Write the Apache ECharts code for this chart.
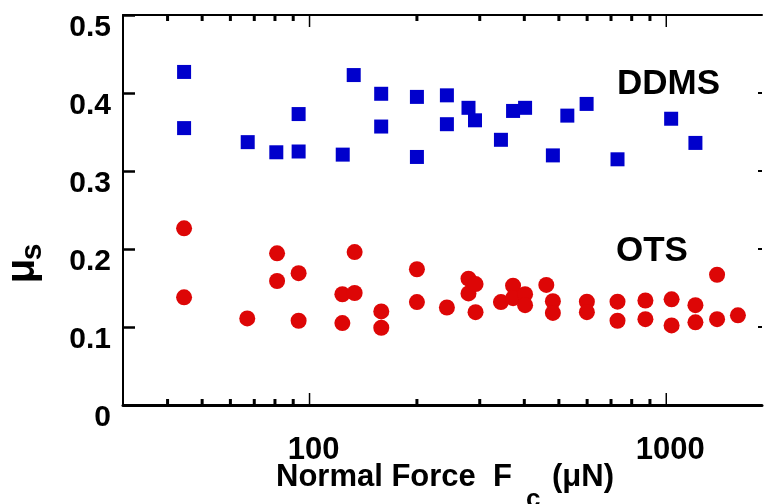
<!DOCTYPE html>
<html>
<head>
<meta charset="utf-8">
<script src="https://cdn.jsdelivr.net/npm/echarts@6/dist/echarts.min.js"></script>
<style>
html,body{margin:0;padding:0;background:#fff;}
#chart{width:765px;height:504px;}
</style>
</head>
<body>
<div id="chart"></div>
<script>
// ---- data ----
var ddmsX = [44.5, 44.5, 67.1, 80.7, 93.2, 93.2, 123.9, 133, 158.8, 158.8, 200, 200, 242.7, 242.7, 279, 291, 344, 372, 402, 481, 528, 598, 730, 1032, 1207];
var ddmsY = [0.427, 0.355, 0.337, 0.324, 0.373, 0.325, 0.321, 0.423, 0.399, 0.357, 0.395, 0.318, 0.397, 0.360, 0.381, 0.365, 0.340, 0.377, 0.381, 0.320, 0.371, 0.386, 0.315, 0.367, 0.336];

var otsX = [44.5, 44.5, 66.9, 81.1, 81.1, 93.2, 93.2, 123.6, 123.6, 133.8, 133.8, 158.9, 158.9, 200, 200, 242.7, 279, 279, 292, 292, 344, 372, 372, 402, 402, 461, 481, 481, 599, 599, 730, 730, 874, 874, 1035, 1035, 1207, 1207, 1388, 1388, 1588];
var otsY = [0.2265, 0.138, 0.111, 0.1945, 0.159, 0.169, 0.108, 0.142, 0.105, 0.196, 0.1436, 0.120, 0.099, 0.174, 0.132, 0.125, 0.162, 0.143, 0.155, 0.119, 0.132, 0.153, 0.137, 0.142, 0.128, 0.154, 0.133, 0.118, 0.1325, 0.119, 0.1325, 0.108, 0.134, 0.110, 0.1355, 0.102, 0.128, 0.106, 0.167, 0.110, 0.115];

var majorTicks = [100, 1000];
var minorTicks = [40, 50, 60, 70, 80, 90, 200, 300, 400, 500, 600, 700, 800, 900];
var xLabels = ['100', '1000'];

var xMin = 30, xMax = 1855;

function zip(a, b) { return a.map(function (v, i) { return [v, b[i]]; }); }

var tickData = majorTicks.map(function (v) { return [v, 1]; })
  .concat(minorTicks.map(function (v) { return [v, 0]; }));

var FONT = '"Liberation Sans", Arial, Helvetica, sans-serif';

var chart = echarts.init(document.getElementById('chart'), null, {renderer: 'canvas'});

var option = {
  backgroundColor: '#ffffff',
  animation: false,
  grid: {left: 123, right: 0, top: 15, bottom: 99, containLabel: false},
  xAxis: [{
    type: 'log', logBase: 10, min: xMin, max: xMax, position: 'bottom',
    axisLine: {show: true, onZero: false, lineStyle: {color: '#000', width: 3}},
    axisTick: {show: false},
    splitLine: {show: false},
    axisLabel: {
      show: true, margin: 30, color: '#000', fontFamily: FONT,
      formatter: function (v) {
        var s = String(Math.round(v));
        return xLabels.indexOf(s) >= 0 && Math.abs(v - Math.round(v)) < 1e-6 ? '{t|' + s + '}' : '';
      },
      rich: {t: {fontSize: 31, fontWeight: 'bold', fontFamily: FONT, color: '#000', padding: [0, 0, 0, 8]}}
    }
  }, {
    type: 'log', logBase: 10, min: xMin, max: xMax, position: 'top',
    axisLine: {show: true, onZero: false, lineStyle: {color: '#000', width: 2}},
    axisTick: {show: false}, axisLabel: {show: false}, splitLine: {show: false}
  }],
  yAxis: [{
    type: 'value', min: 0, max: 0.5, interval: 0.1, position: 'left',
    axisLine: {show: true, onZero: false, lineStyle: {color: '#000', width: 2}},
    axisTick: {show: true, inside: true, length: 12, lineStyle: {color: '#000', width: 2.5}},
    splitLine: {show: false},
    axisLabel: {
      margin: 12, color: '#000', fontFamily: FONT,
      formatter: function (v) { return '{t|' + String(Math.round(v * 10) / 10) + '}'; },
      rich: {t: {fontSize: 30, fontWeight: 'bold', fontFamily: FONT, color: '#000', padding: [25, 0, 0, 0]}}
    }
  }, {
    type: 'value', min: 0, max: 0.5, interval: 0.1, position: 'right',
    axisLine: {show: false},
    axisTick: {show: true, inside: true, length: 4, lineStyle: {color: '#000', width: 2}},
    axisLabel: {show: false}, splitLine: {show: false}
  }],
  series: [{
    name: 'DDMS', type: 'scatter', xAxisIndex: 0, yAxisIndex: 0,
    data: zip(ddmsX, ddmsY),
    symbol: 'rect', symbolSize: [14, 14],
    itemStyle: {color: '#0000cc', opacity: 1}
  }, {
    name: 'OTS', type: 'scatter', xAxisIndex: 0, yAxisIndex: 0,
    data: zip(otsX, otsY),
    symbol: 'circle', symbolSize: 16,
    itemStyle: {color: '#dd0606', opacity: 1}
  }, {
    name: 'ticks', type: 'custom', xAxisIndex: 0, yAxisIndex: 0,
    data: tickData, silent: true, clip: false,
    renderItem: function (params, api) {
      var x = api.coord([api.value(0), 0.25])[0];
      var cs = params.coordSys;
      var major = api.value(1) === 1;
      var len = major ? 12 : 6;
      var w = major ? 1.5 : 3;
      var top = cs.y, bottom = cs.y + cs.height;
      return {
        type: 'group',
        children: [{
          type: 'line', shape: {x1: x, y1: bottom, x2: x, y2: bottom - len},
          style: {stroke: '#000', lineWidth: w}
        }, {
          type: 'line', shape: {x1: x, y1: top, x2: x, y2: top + len},
          style: {stroke: '#000', lineWidth: w}
        }]
      };
    }
  }],
  graphic: [
    {type: 'text', left: 617, top: 67, style: {text: 'DDMS', font: 'bold 35px ' + FONT, fill: '#000'}},
    {type: 'text', left: 616, top: 234, style: {text: 'OTS', font: 'bold 35px ' + FONT, fill: '#000'}},
    {type: 'text', x: 276, y: 477, style: {text: 'Normal Force  F', font: 'bold 31px ' + FONT, fill: '#000', align: 'left', verticalAlign: 'middle'}},
    {type: 'text', x: 526, y: 500, style: {text: 'c', font: 'bold 26px ' + FONT, fill: '#000', align: 'left', verticalAlign: 'middle'}},
    {type: 'text', x: 552, y: 477, style: {text: '(\u03bcN)', font: 'bold 31px ' + FONT, fill: '#000', align: 'left', verticalAlign: 'middle'}},
    {type: 'text', x: 23, y: 271, rotation: Math.PI / 2, style: {text: '\u03bc', font: 'bold 40px ' + FONT, fill: '#000', align: 'center', verticalAlign: 'middle'}},
    {type: 'text', x: 33, y: 252, rotation: Math.PI / 2, style: {text: 's', font: 'bold 30px ' + FONT, fill: '#000', align: 'center', verticalAlign: 'middle'}}
  ]
};
chart.setOption(option);
</script>
</body>
</html>
